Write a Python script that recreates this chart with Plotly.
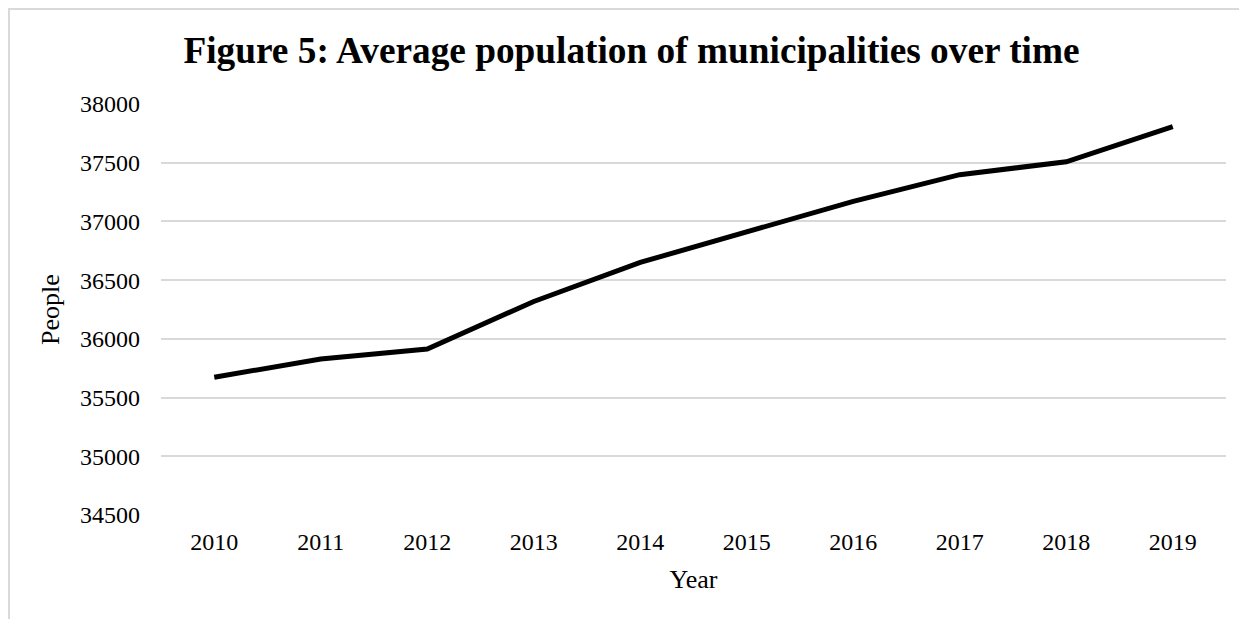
import plotly.graph_objects as go

years = ["2010", "2011", "2012", "2013", "2014", "2015", "2016", "2017", "2018", "2019"]
people = [35673, 35829, 35914, 36318, 36651, 36912, 37171, 37398, 37508, 37807]
y_ticks = [34500, 35000, 35500, 36000, 36500, 37000, 37500, 38000]

FONT = "Liberation Serif, Times New Roman, serif"

fig = go.Figure()
fig.add_trace(go.Scatter(
    x=years, y=people, mode="lines",
    line=dict(color="black", width=5),
    showlegend=False, hoverinfo="skip",
))

W, H = 1247, 619
L, R, T, B = 153, 29, 96, 112
pw, ph = W - L - R, H - T - B

fig.update_layout(
    width=W, height=H,
    margin=dict(l=L, r=R, t=T, b=B),
    paper_bgcolor="white", plot_bgcolor="white",
    font=dict(family=FONT, color="black", size=24),
    title=dict(
        text="<b>Figure 5: Average population of municipalities over time</b>",
        x=0.5, xanchor="center", xref="container",
        y=1 - 42 / H, yanchor="middle", yref="container",
        font=dict(family=FONT, size=37.3, color="black"),
    ),
    xaxis=dict(
        type="category", range=[-0.5, 9.5],
        showgrid=False, showline=False, zeroline=False, ticks="",
        tickfont=dict(size=24), ticklabelstandoff=10,
        title=dict(text="Year", font=dict(size=26), standoff=15),
    ),
    yaxis=dict(
        range=[34500, 38000], tickvals=y_ticks, tickformat="d",
        showgrid=True, gridcolor="#d9d9d9", gridwidth=1.5,
        showline=False, zeroline=False, ticks="",
        tickfont=dict(size=24), ticklabelstandoff=20,
        title=dict(text="People", font=dict(size=26), standoff=12),
    ),
    shapes=[dict(
        type="rect", xref="paper", yref="paper",
        x0=(1 - L) / pw, x1=(W - 1 - L) / pw,
        y0=-(H - 1 - (T + ph)) / ph, y1=(T + ph - 1) / ph,
        line=dict(color="#d9d9d9", width=2), fillcolor="rgba(0,0,0,0)",
        layer="below",
    )],
)

fig.write_html("out.html")
